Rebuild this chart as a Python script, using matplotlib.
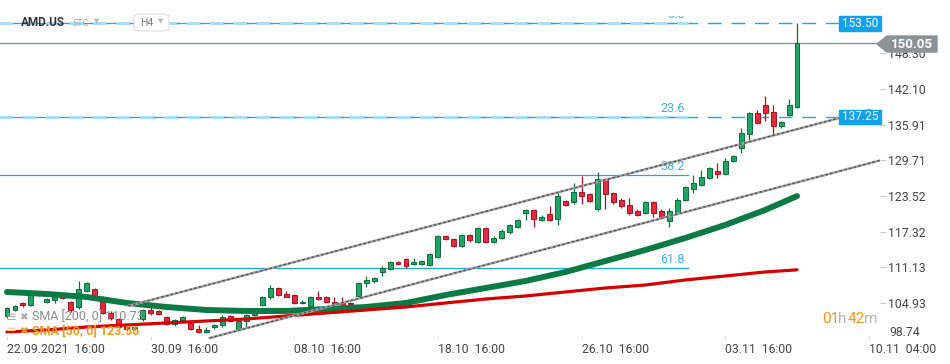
import matplotlib
matplotlib.use("Agg")
import matplotlib.pyplot as plt
from matplotlib.patches import Rectangle, Polygon, FancyBboxPatch
from matplotlib.transforms import blended_transform_factory
import numpy as np

plt.rcParams['font.family'] = ['Roboto', 'DejaVu Sans']

# H4 candles, AMD.US
opens = [102.6, 103.7, 105.0, 104.6, 106.6, 105.1, 105.4, 105.9, 105.1, 104.2,
         107.0, 107.3, 106.0, 103.2, 102.1, 100.9, 100.4, 102.1, 103.7, 103.5,
         102.5, 101.3, 102.0, 101.4, 100.4, 99.9, 100.7, 101.1, 102.6, 100.4,
         101.9, 102.8, 104.6, 105.9, 107.6, 106.5, 106.3, 104.9, 104.4, 105.9,
         105.9, 105.2, 105.0, 105.0, 106.1, 108.4, 108.7, 110.3, 110.8, 112.0,
         112.5, 111.7, 111.8, 111.5, 113.0, 116.5, 116.1, 114.8, 116.7, 115.6,
         118.0, 115.6, 116.3, 117.2, 118.1, 120.5, 121.1, 119.4, 120.4, 119.6,
         122.7, 122.4, 124.3, 123.9, 121.2, 126.5, 124.1, 122.9, 122.0, 121.0,
         120.6, 122.4, 121.0, 119.1, 120.6, 122.9, 124.8, 125.5, 126.7, 127.8,
         127.4, 129.6, 131.9, 134.3, 137.9, 139.3, 138.1, 135.7, 137.6, 139.0]
highs = [104.3, 104.6, 105.2, 106.9, 106.9, 105.8, 106.0, 106.2, 105.3, 108.8,
         108.6, 107.6, 106.2, 103.5, 102.3, 101.4, 101.0, 103.9, 104.2, 103.7,
         102.7, 102.2, 102.7, 101.6, 101.1, 100.7, 101.3, 102.8, 102.8, 102.1,
         103.0, 103.4, 106.1, 108.0, 107.8, 107.1, 106.5, 105.4, 106.1, 107.1,
         106.1, 105.9, 105.9, 105.2, 108.6, 109.7, 109.4, 111.3, 112.2, 112.2,
         112.7, 112.7, 112.4, 113.6, 116.7, 116.7, 116.3, 117.0, 116.9, 118.2,
         118.2, 116.5, 117.8, 118.6, 119.6, 121.2, 121.3, 120.2, 121.7, 124.1,
         122.9, 125.7, 127.0, 124.1, 127.6, 126.7, 124.3, 123.1, 123.1, 121.2,
         122.6, 122.6, 121.2, 121.5, 123.1, 125.2, 127.2, 128.1, 128.5, 129.3,
         130.2, 130.7, 135.4, 138.1, 138.5, 140.9, 139.3, 136.6, 140.4, 153.5]
lows = [102.4, 103.5, 104.2, 104.4, 106.1, 104.9, 105.0, 105.6, 103.4, 103.9,
        106.8, 105.9, 103.0, 102.0, 100.5, 100.1, 100.2, 101.9, 102.9, 102.8,
        101.1, 100.9, 101.8, 100.2, 99.7, 99.8, 100.5, 100.8, 101.6, 100.2,
        100.6, 102.6, 104.4, 105.6, 106.1, 105.9, 104.7, 104.7, 103.7, 105.4,
        104.9, 104.7, 104.4, 104.5, 105.9, 107.7, 108.5, 109.6, 110.6, 111.5,
        111.0, 111.5, 111.6, 111.3, 112.8, 115.8, 114.6, 114.6, 115.6, 115.4,
        115.3, 115.4, 116.1, 117.0, 117.9, 119.4, 118.2, 119.2, 119.2, 118.5,
        121.8, 122.2, 122.1, 122.5, 121.0, 121.3, 122.2, 121.5, 120.3, 120.1,
        120.4, 119.8, 119.7, 118.2, 120.4, 122.7, 124.1, 125.3, 126.5, 126.7,
        127.2, 129.4, 130.9, 133.3, 136.0, 136.6, 134.3, 135.4, 137.4, 138.8]
closes = [104.0, 104.4, 104.6, 106.6, 106.3, 105.6, 105.9, 105.8, 103.7, 107.3,
          108.4, 106.0, 103.2, 102.3, 100.7, 100.4, 100.8, 103.7, 103.2, 103.0,
          101.3, 102.0, 102.5, 100.4, 99.9, 100.2, 101.2, 102.5, 101.8, 101.9,
          102.8, 103.2, 105.9, 107.6, 106.3, 106.0, 104.9, 105.2, 105.9, 105.6,
          105.1, 104.9, 104.6, 104.7, 108.4, 108.9, 109.2, 111.1, 112.0, 111.7,
          111.3, 112.0, 112.2, 113.4, 116.5, 116.0, 114.8, 116.7, 115.8, 118.0,
          115.6, 116.3, 117.5, 118.4, 119.4, 121.1, 119.6, 119.9, 119.4, 123.6,
          122.0, 124.3, 123.6, 122.7, 126.4, 123.9, 122.4, 121.7, 120.6, 120.3,
          122.4, 120.6, 119.9, 121.0, 122.9, 125.0, 125.8, 126.9, 128.3, 127.4,
          129.6, 130.5, 134.5, 137.9, 136.2, 137.9, 135.7, 136.4, 139.3, 150.05]

# moving averages, read every 5 candles
sma_idx = [0, 5, 10, 15, 20, 25, 30, 35, 40, 45, 50, 55, 60, 65, 70, 75, 80, 85, 90, 95, 99]
sma50 = [106.86, 106.51, 105.99, 104.95, 104.25, 103.73, 103.56, 103.56, 103.91, 104.25, 104.95,
         106.34, 107.55, 108.77, 110.33, 112.24, 114.15, 116.23, 118.49, 121.09, 123.5]
sma200 = [99.91, 100.26, 100.78, 101.13, 101.48, 101.82, 102.17, 102.69, 103.21, 103.73, 104.25,
          104.95, 105.64, 106.16, 106.86, 107.55, 108.07, 108.94, 109.63, 110.33, 110.7]

fib_levels = [153.50, 137.25, 127.15, 110.95]
fib_names = ["0.0", "23.6", "38.2", "61.8"]
tag_levels = [153.50, 137.25]
last_price = 150.05

upper_x, upper_y = [15.2, 108.1], [104.43, 138.45]
lower_x, lower_y = [25.4, 109.6], [98.87, 129.77]

y_ticks = [104.93, 111.13, 117.32, 123.52, 129.71, 135.91, 142.10, 148.30]
x_tick_pos = [0, 18, 36, 54, 72, 90, 108]
x_tick_labels = ["22.09.2021  16:00", "30.09  16:00", "08.10  16:00", "18.10  16:00",
                 "26.10  16:00", "03.11  16:00", "10.11  04:00"]

W, H = 950, 364
fig = plt.figure(figsize=(W / 100, H / 100), dpi=100)
ax = fig.add_axes([0, 24 / H, 880 / W, (340 - 16) / H])
ax.set_xlim(-0.877, 109.4)
ax.set_ylim(98.52, 154.77)

def fx(x):
    return x / W

def fy(y):
    return 1 - y / H

# fib levels
fib_end = 85.3
blue = '#1fa5e8'
for lv, nm in zip(fib_levels, fib_names):
    ax.plot([-1, fib_end], [lv, lv], color=blue, lw=0.9, zorder=1)
    ax.text(84.9, lv + 0.4, nm, color='#3db0ee', fontsize=9, ha='right', va='bottom', zorder=1, clip_on=True)
for lv in tag_levels:
    ax.plot([-1, 104.2], [lv, lv], color=blue, lw=1.0, ls=(0, (10, 7)), zorder=1)
    ax.plot([-1, fib_end], [lv, lv], color='#a8dcf7', lw=2.2, ls=(0, (4.5, 3.15)), zorder=1)

ax.axhline(last_price, color='#8e9497', lw=1, zorder=2)

# candles
idx = np.arange(len(opens))
o = np.array(opens)
c = np.array(closes)
hi = np.array(highs)
lo = np.array(lows)
up = c >= o
body_lo = np.minimum(o, c)
body_h = np.maximum(np.abs(c - o), 0.15)
for mask, fcol, ecol in [(up, '#22a466', '#0d6b3b'), (~up, '#e5283b', '#a3141f')]:
    ax.vlines(idx[mask], lo[mask], hi[mask], color=ecol, lw=0.9, zorder=4)
    ax.bar(idx[mask], body_h[mask], bottom=body_lo[mask], width=0.62, color=fcol,
           edgecolor=ecol, linewidth=0.7, zorder=4)

# moving averages
ax.plot(sma_idx, sma50, color='#0b7a45', lw=4.3, solid_capstyle='round', solid_joinstyle='round', zorder=5)
ax.plot(sma_idx, sma200, color='#d40000', lw=2.3, solid_capstyle='round', solid_joinstyle='round', zorder=5)

# trend channel
for xs, ys in [(upper_x, upper_y), (lower_x, lower_y)]:
    ax.plot(xs, ys, color='#a8a8a8', lw=1.8, zorder=6)
    ax.plot(xs, ys, color='#555555', lw=1.0, ls=(0, (2, 1.5)), zorder=6)

# price tags on the right edge of the plot
bt = blended_transform_factory(ax.transAxes, ax.transData)
for lv in tag_levels:
    ax.add_patch(Rectangle((839 / 880, lv - 1.25), 42 / 880, 2.5, transform=bt,
                           color='#12a1ea', clip_on=False, zorder=8))
    ax.text(860 / 880, lv, f"{lv:.2f}", transform=bt, color='white', fontsize=8.5,
            ha='center', va='center', zorder=9, clip_on=False)

# axes styling
for s in ax.spines.values():
    s.set_visible(False)
ax.yaxis.tick_right()
ax.set_yticks(y_ticks)
ax.set_yticklabels([f"{v:.2f}" for v in y_ticks])
ax.tick_params(axis='y', length=4, color='#cccccc', labelcolor='#444444', labelsize=8.8, pad=2)
ax.set_xticks(x_tick_pos)
ax.set_xticklabels(x_tick_labels, ha='left')
ax.tick_params(axis='x', direction='in', length=3, color='#dddddd', labelcolor='#444444',
               labelsize=8.8, pad=2)

fig.text(fx(889), fy(333), "98.74", color='#444444', fontsize=8.8, ha='left', va='center')

# last price tag
tag = Polygon([(fx(877), fy(44)), (fx(887), fy(36)), (fx(937), fy(36)), (fx(937), fy(52)), (fx(887), fy(52))],
              closed=True, transform=fig.transFigure, color='#8c9295', zorder=5)
fig.patches.append(tag)
fig.text(fx(912), fy(44), f"{last_price:.2f}", color='white', fontsize=9.5, fontweight='bold',
         ha='center', va='center', zorder=6)

# header
fig.text(fx(21), fy(23), "AMD.US", color='#333333', fontsize=8.5, fontweight='bold', ha='left', va='center')
fig.text(fx(73), fy(24), "STC", color='#aaaaaa', fontsize=6.5, ha='left', va='center')
fig.text(fx(94), fy(22), "▼", color='#bbbbbb', fontsize=5, ha='left', va='center')
box = FancyBboxPatch((fx(134), fy(31)), fx(35), 17 / H, boxstyle="round,pad=0,rounding_size=0.008",
                     transform=fig.transFigure, facecolor='white', edgecolor='#dddddd', lw=0.8, zorder=2)
fig.patches.append(box)
fig.text(fx(140), fy(23), "H4", color='#777777', fontsize=7.5, ha='left', va='center', zorder=3)
fig.text(fx(158), fy(22), "▼", color='#bbbbbb', fontsize=5, ha='left', va='center', zorder=3)

# indicator legend (below the candles)
fig.text(fx(6), fy(317), "≡", color='#aaaaaa', fontsize=9.5, ha='left', va='center', zorder=0)
fig.text(fx(19), fy(317), "✖", color='#aaaaaa', fontsize=7.5, ha='left', va='center', zorder=0)
fig.text(fx(32), fy(317), "SMA [200, 0] 110.73", color='#8a8a8a', fontsize=9, ha='left', va='center', zorder=0)
fig.text(fx(6), fy(331), "≡", color='#f6c08a', fontsize=9.5, ha='left', va='center', zorder=0)
fig.text(fx(19), fy(331), "✖", color='#f39a1e', fontsize=7.5, ha='left', va='center', zorder=0)
fig.text(fx(32), fy(331), "SMA [50, 0] 123.56", color='#f39a1e', fontsize=9, fontweight='bold',
         ha='left', va='center', zorder=0)

# countdown
fig.text(fx(822), fy(319), "01", color='#f7941d', fontsize=11, ha='left', va='center')
fig.text(fx(838), fy(319), "h", color='#b5b5b5', fontsize=11, ha='left', va='center')
fig.text(fx(848), fy(319), "42", color='#f7941d', fontsize=11, ha='left', va='center')
fig.text(fx(864), fy(319), "m", color='#b5b5b5', fontsize=11, ha='left', va='center')

fig.savefig("out.png", dpi=100)
